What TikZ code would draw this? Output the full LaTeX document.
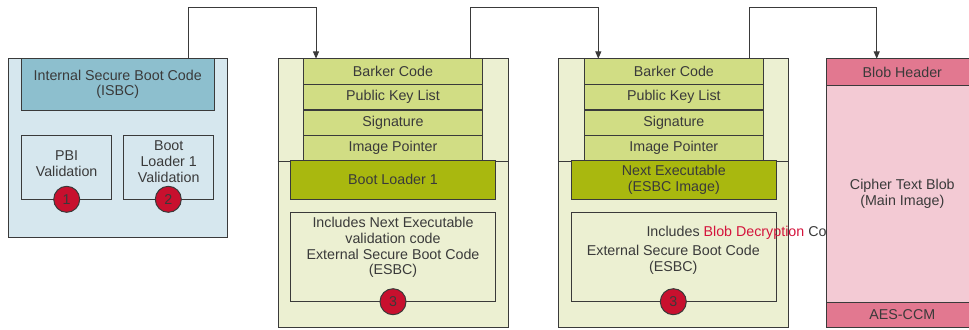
\documentclass[tikz,border=0pt]{standalone}
\usepackage{fontspec}
\setmainfont{Liberation Sans}
\usetikzlibrary{arrows.meta}

\definecolor{isbcBack}{HTML}{D6E7EE}
\definecolor{isbcHead}{HTML}{8DBFCE}
\definecolor{imgBack}{HTML}{ECF0D2}
\definecolor{hdrRow}{HTML}{D1DD84}
\definecolor{loaderFill}{HTML}{A9B80F}
\definecolor{blobBack}{HTML}{F3CAD4}
\definecolor{blobHead}{HTML}{E27890}
\definecolor{stepRed}{HTML}{C8102E}
\definecolor{blobText}{HTML}{D4143C}
\definecolor{edgeGray}{HTML}{3A3A3A}

\tikzset{every picture/.style={line width=0.75pt}}

\begin{document}
\begin{tikzpicture}[x=0.75pt,y=0.75pt,yscale=-1,xscale=1,
  every node/.style={font=\fontsize{10.7}{11.8}\selectfont, text=edgeGray, align=center, inner sep=0.75pt},
  blk/.style={draw=edgeGray, rectangle, minimum width=#1},
  hdr/.style={blk=133.95pt, fill=hdrRow, minimum height=19.05pt},
  stepdot/.style={draw=edgeGray, fill=stepRed, circle, minimum size=19.5pt, inner sep=0pt},
  flow/.style={draw=edgeGray, -{Triangle[length=5.5pt,width=4.5pt]}}]
\useasboundingbox (0,0) rectangle (969,329);

%ISBC block
\node [blk=164.25pt, fill=isbcBack, minimum height=134.6pt] (isbcbox) at (118,148.25) {};
\node [blk=144.4pt, fill=isbcHead, minimum height=38.85pt] (isbc) at (117.75,84.4) {Internal Secure Boot Code\\(ISBC)};
\node [blk=67.65pt, fill=isbcBack, minimum height=48.2pt] (pbival) at (66.6,167.15) {};
\node (pbitxt) at (66.6,163.7) {PBI\\Validation};
\node [blk=67.5pt, fill=isbcBack, minimum height=48.2pt] (blval) at (168.7,167.15) {};
\node (bltxt) at (168.7,161.5) {Boot\\Loader 1\\Validation};
\node [stepdot] (one) at (66.7,199.3) {1};
\node [stepdot] (two) at (168.3,199.3) {2};

%Boot loader image
\node [blk=172.5pt, fill=imgBack, minimum height=201.45pt] (imgA) at (393,193) {};
\draw [edgeGray] (imgA.west |- 0,161) -- (imgA.east |- 0,161);
\node [hdr] (barkerA) at (393,71.5) {Barker Code};
\node [hdr] (keysA) at (393,97.2) {Public Key List};
\node [hdr] (sigA) at (393,122.7) {Signature};
\node [hdr] (ptrA) at (393,147.8) {Image Pointer};
\node [blk=153.45pt, fill=loaderFill, minimum height=29.25pt] (loaderA) at (393,179.8) {Boot Loader 1};
\node [blk=153.45pt, fill=imgBack, minimum height=67.05pt] (esbcA) at (393,257) {};
\node (esbcAtxt) at (393,247.6) {Includes Next Executable\\validation code\\External Secure Boot Code\\(ESBC)};
\node [stepdot] (threeA) at (393,301.7) {3};

%ESBC image
\node [blk=172.5pt, fill=imgBack, minimum height=201.45pt] (imgB) at (673.7,193) {};
\draw [edgeGray] (imgB.west |- 0,161) -- (imgB.east |- 0,161);
\node [hdr] (barkerB) at (673.85,71.5) {Barker Code};
\node [hdr] (keysB) at (673.85,97.2) {Public Key List};
\node [hdr] (sigB) at (673.85,122.7) {Signature};
\node [hdr] (ptrB) at (673.85,147.8) {Image Pointer};
\node [blk=153.75pt, fill=loaderFill, minimum height=29.25pt] (nextB) at (673.8,179.8) {Next Executable\\(ESBC Image)};
\node [blk=153.75pt, fill=imgBack, minimum height=67.05pt] (esbcB) at (673.8,257) {};
\node [anchor=west] (blobtxt) at (645,233.3) {Includes \textcolor{blobText}{Blob Decryption} Co};
\node (esbcBtxt) at (673.3,259.7) {External Secure Boot Code\\(ESBC)};
\node [stepdot] (threeB) at (673.3,301.7) {3};

%Encrypted blob
\node [blk=114.45pt, fill=blobBack, minimum height=201.45pt] (blob) at (902.3,193) {};
\node [blk=114.45pt, fill=blobHead, minimum height=20.25pt] (blobhdr) at (902.3,72.2) {Blob Header};
\node [blk=114.45pt, fill=blobHead, minimum height=18.75pt] (aes) at (902.3,314.8) {AES-CCM};
\node (cipher) at (902.3,193.5) {Cipher Text Blob\\(Main Image)};

%Connectors
\coordinate (outA) at (188.3,58.7);
\coordinate (inA) at (316,58.7);
\coordinate (outB) at (470,58.7);
\coordinate (inB) at (598.3,58.7);
\coordinate (outC) at (749,58.7);
\coordinate (inC) at (876.7,58.7);
\draw [flow] (outA) -- ++(0,-51.4) -| (inA);
\draw [flow] (outB) -- ++(0,-51.4) -| (inB);
\draw [flow] (outC) -- ++(0,-51.4) -| (inC);

\end{tikzpicture}
\end{document}
